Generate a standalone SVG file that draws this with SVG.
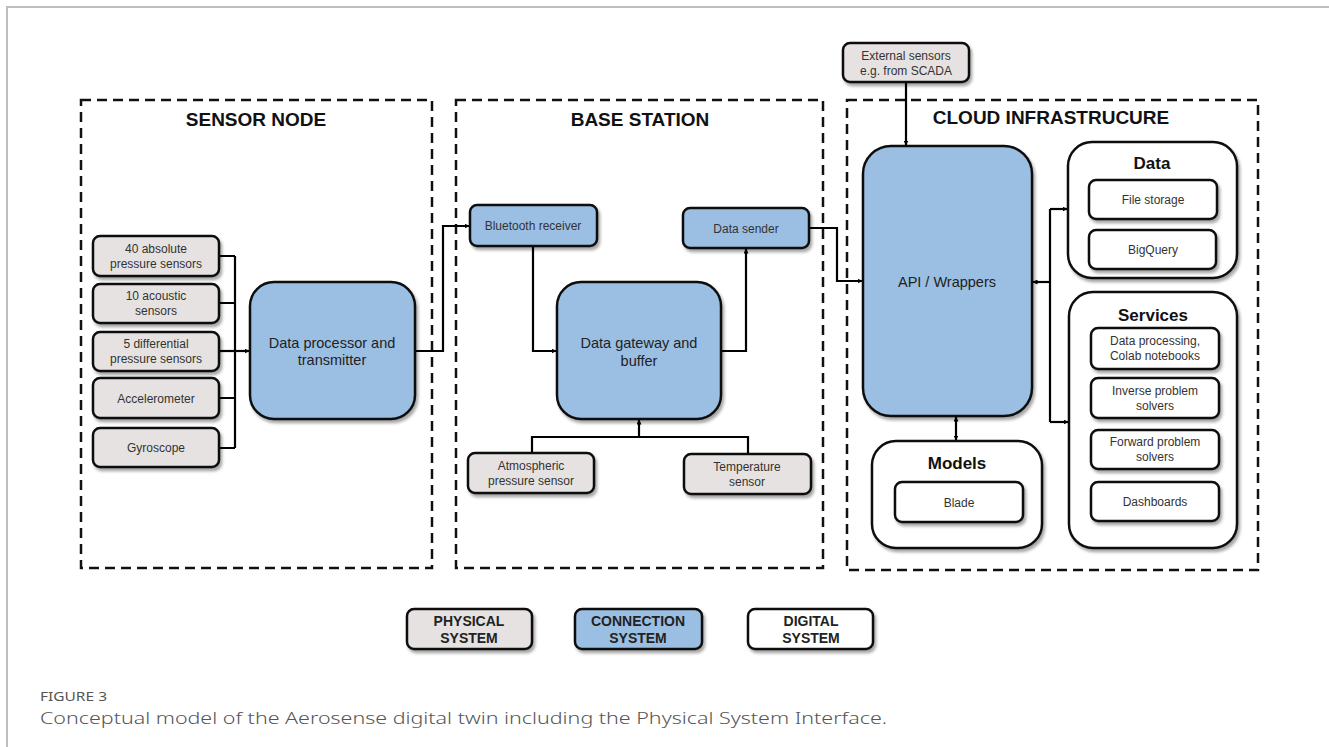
<svg xmlns="http://www.w3.org/2000/svg" width="1329" height="747" viewBox="0 0 1329 747">
  <defs>
    <filter id="shadow" x="-10%" y="-10%" width="130%" height="140%">
      <feDropShadow dx="2" dy="3" stdDeviation="1.8" flood-color="#000" flood-opacity="0.35"/>
    </filter>
    <marker id="arrow" viewBox="0 0 10 10" refX="9" refY="5" markerWidth="5" markerHeight="5" orient="auto-start-reverse" markerUnits="userSpaceOnUse">
      <path d="M0,0 L10,5 L0,10 z" fill="#000"/>
    </marker>
    <style>
      .frame { fill: none; stroke: #bdbdbd; stroke-width: 2; }
      .zone { fill: none; stroke: #111; stroke-width: 2.5; stroke-dasharray: 10 6; }
      .zone-title { font-family: "Liberation Sans", Arial, sans-serif; font-weight: bold; font-size: 19px; fill: #111; text-anchor: middle; }
      .phys { fill: #e6e2e1; stroke: #111; stroke-width: 2.5; filter: url(#shadow); }
      .conn { fill: #9bbfe2; stroke: #111; stroke-width: 2.5; filter: url(#shadow); }
      .dig { fill: #fff; stroke: #111; stroke-width: 2.5; filter: url(#shadow); }
      .lbl { font-family: "Liberation Sans", Arial, sans-serif; font-size: 12px; fill: #333; text-anchor: middle; }
      .big { font-family: "Liberation Sans", Arial, sans-serif; font-size: 14.5px; fill: #222; text-anchor: middle; }
      .head { font-family: "Liberation Sans", Arial, sans-serif; font-weight: bold; font-size: 17px; fill: #111; text-anchor: middle; }
      .legend { font-family: "Liberation Sans", Arial, sans-serif; font-weight: bold; font-size: 14px; fill: #222; text-anchor: middle; }
      .wire { fill: none; stroke: #000; stroke-width: 2.2; }
      .cap-head { font-family: "Noto Sans", "Liberation Sans", sans-serif; font-size: 13px; fill: #555; }
      .cap { font-family: "Noto Sans", "Liberation Sans", sans-serif; font-weight: 300; font-size: 17px; fill: #555; }
    </style>
  </defs>

  <rect width="1329" height="747" fill="#fff"/>
  <!-- page frame -->
  <path class="frame" d="M7,747 V7 H1329"/>

  <!-- zones -->
  <g id="zone-sensor-node">
    <rect class="zone" x="81" y="100" width="351" height="468"/>
    <text class="zone-title" x="256" y="126">SENSOR NODE</text>
  </g>
  <g id="zone-base-station">
    <rect class="zone" x="456" y="100" width="367" height="468"/>
    <text class="zone-title" x="640" y="126">BASE STATION</text>
  </g>
  <g id="zone-cloud">
    <rect class="zone" x="847" y="100" width="411" height="470"/>
    <text class="zone-title" x="1051" y="124">CLOUD INFRASTRUCURE</text>
  </g>

  <!-- connectors -->
  <g id="connectors">
    <!-- sensor bus -->
    <path class="wire" d="M219,256 H235 M219,303 H235 M219,398 H235 M219,448 H235 M235,256 V448"/>
    <path class="wire" d="M219,351 H249" marker-end="url(#arrow)"/>
    <!-- processor to bluetooth receiver -->
    <path class="wire" d="M415,351 H443 V226 H469" marker-end="url(#arrow)"/>
    <!-- receiver to gateway -->
    <path class="wire" d="M533,246 V351 H556" marker-end="url(#arrow)"/>
    <!-- gateway to data sender -->
    <path class="wire" d="M721,351 H746 V249" marker-end="url(#arrow)"/>
    <!-- local sensors to gateway -->
    <path class="wire" d="M532,453 V437 H748 V454"/>
    <path class="wire" d="M639,437 V420" marker-end="url(#arrow)"/>
    <!-- data sender to API -->
    <path class="wire" d="M809,228 H837 V281 H862" marker-end="url(#arrow)"/>
    <!-- external sensors to API -->
    <path class="wire" d="M906,82 V145" marker-end="url(#arrow)"/>
    <!-- API to models -->
    <path class="wire" d="M956,417 V440" marker-start="url(#arrow)" marker-end="url(#arrow)"/>
    <!-- API to data / services -->
    <path class="wire" d="M1050,209 V422"/>
    <path class="wire" d="M1050,209 H1067" marker-end="url(#arrow)"/>
    <path class="wire" d="M1050,422 H1068" marker-end="url(#arrow)"/>
    <path class="wire" d="M1050,282 H1033" marker-end="url(#arrow)"/>
  </g>

  <!-- sensor node -->
  <g id="abs-pressure">
    <rect class="phys" x="93" y="236" width="126" height="40" rx="7"/>
    <text class="lbl" x="156" y="253">40 absolute</text>
    <text class="lbl" x="156" y="268">pressure sensors</text>
  </g>
  <g id="acoustic">
    <rect class="phys" x="93" y="284" width="126" height="39" rx="7"/>
    <text class="lbl" x="156" y="300">10 acoustic</text>
    <text class="lbl" x="156" y="315">sensors</text>
  </g>
  <g id="diff-pressure">
    <rect class="phys" x="93" y="332" width="126" height="39" rx="7"/>
    <text class="lbl" x="156" y="348">5 differential</text>
    <text class="lbl" x="156" y="363">pressure sensors</text>
  </g>
  <g id="accelerometer">
    <rect class="phys" x="93" y="378" width="126" height="40" rx="7"/>
    <text class="lbl" x="156" y="403">Accelerometer</text>
  </g>
  <g id="gyroscope">
    <rect class="phys" x="93" y="428" width="126" height="39" rx="7"/>
    <text class="lbl" x="156" y="452">Gyroscope</text>
  </g>
  <g id="processor">
    <rect class="conn" x="250" y="282" width="165" height="137" rx="24"/>
    <text class="big" x="332" y="348">Data processor and</text>
    <text class="big" x="332" y="365">transmitter</text>
  </g>

  <!-- base station -->
  <g id="bt-receiver">
    <rect class="conn" x="470" y="205" width="127" height="41" rx="7"/>
    <text class="lbl" x="533" y="230">Bluetooth receiver</text>
  </g>
  <g id="data-sender">
    <rect class="conn" x="683" y="208" width="126" height="40" rx="7"/>
    <text class="lbl" x="746" y="233">Data sender</text>
  </g>
  <g id="gateway">
    <rect class="conn" x="557" y="282" width="164" height="137" rx="24"/>
    <text class="big" x="639" y="348">Data gateway and</text>
    <text class="big" x="639" y="366">buffer</text>
  </g>
  <g id="atm-pressure">
    <rect class="phys" x="468" y="453" width="126" height="40" rx="7"/>
    <text class="lbl" x="531" y="470">Atmospheric</text>
    <text class="lbl" x="531" y="485">pressure sensor</text>
  </g>
  <g id="temperature">
    <rect class="phys" x="684" y="454" width="127" height="40" rx="7"/>
    <text class="lbl" x="747" y="471">Temperature</text>
    <text class="lbl" x="747" y="486">sensor</text>
  </g>

  <!-- cloud -->
  <g id="external-sensors">
    <rect class="phys" x="843" y="43" width="126" height="39" rx="7"/>
    <text class="lbl" x="906" y="60">External sensors</text>
    <text class="lbl" x="906" y="75">e.g. from SCADA</text>
  </g>
  <g id="api">
    <rect class="conn" x="863" y="146" width="169" height="270" rx="28"/>
    <text class="big" x="947" y="287">API / Wrappers</text>
  </g>
  <g id="data">
    <rect class="dig" x="1068" y="142" width="169" height="136" rx="24"/>
    <text class="head" x="1152" y="169">Data</text>
    <rect class="dig" x="1089" y="180" width="128" height="39" rx="7"/>
    <text class="lbl" x="1153" y="204">File storage</text>
    <rect class="dig" x="1089" y="230" width="127" height="39" rx="7"/>
    <text class="lbl" x="1153" y="254">BigQuery</text>
  </g>
  <g id="services">
    <rect class="dig" x="1069" y="292" width="168" height="256" rx="24"/>
    <text class="head" x="1153" y="321">Services</text>
    <rect class="dig" x="1091" y="328" width="128" height="41" rx="7"/>
    <text class="lbl" x="1155" y="345">Data processing,</text>
    <text class="lbl" x="1155" y="360">Colab notebooks</text>
    <rect class="dig" x="1091" y="378" width="128" height="40" rx="7"/>
    <text class="lbl" x="1155" y="395">Inverse problem</text>
    <text class="lbl" x="1155" y="410">solvers</text>
    <rect class="dig" x="1091" y="430" width="128" height="39" rx="7"/>
    <text class="lbl" x="1155" y="446">Forward problem</text>
    <text class="lbl" x="1155" y="461">solvers</text>
    <rect class="dig" x="1091" y="482" width="128" height="39" rx="7"/>
    <text class="lbl" x="1155" y="506">Dashboards</text>
  </g>
  <g id="models">
    <rect class="dig" x="872" y="441" width="170" height="107" rx="24"/>
    <text class="head" x="957" y="469">Models</text>
    <rect class="dig" x="895" y="482" width="128" height="40" rx="7"/>
    <text class="lbl" x="959" y="507">Blade</text>
  </g>

  <!-- legend -->
  <g id="legend-physical">
    <rect class="phys" x="407" y="609" width="125" height="40" rx="7"/>
    <text class="legend" x="469" y="626">PHYSICAL</text>
    <text class="legend" x="469" y="643">SYSTEM</text>
  </g>
  <g id="legend-connection">
    <rect class="conn" x="575" y="609" width="127" height="40" rx="7"/>
    <text class="legend" x="638" y="626">CONNECTION</text>
    <text class="legend" x="638" y="643">SYSTEM</text>
  </g>
  <g id="legend-digital">
    <rect class="dig" x="748" y="609" width="125" height="40" rx="7"/>
    <text class="legend" x="811" y="626">DIGITAL</text>
    <text class="legend" x="811" y="643">SYSTEM</text>
  </g>

  <!-- caption -->
  <text class="cap-head" x="40" y="701" textLength="67" lengthAdjust="spacingAndGlyphs">FIGURE 3</text>
  <text class="cap" x="40" y="724" textLength="847" lengthAdjust="spacingAndGlyphs">Conceptual model of the Aerosense digital twin including the Physical System Interface.</text>
</svg>
